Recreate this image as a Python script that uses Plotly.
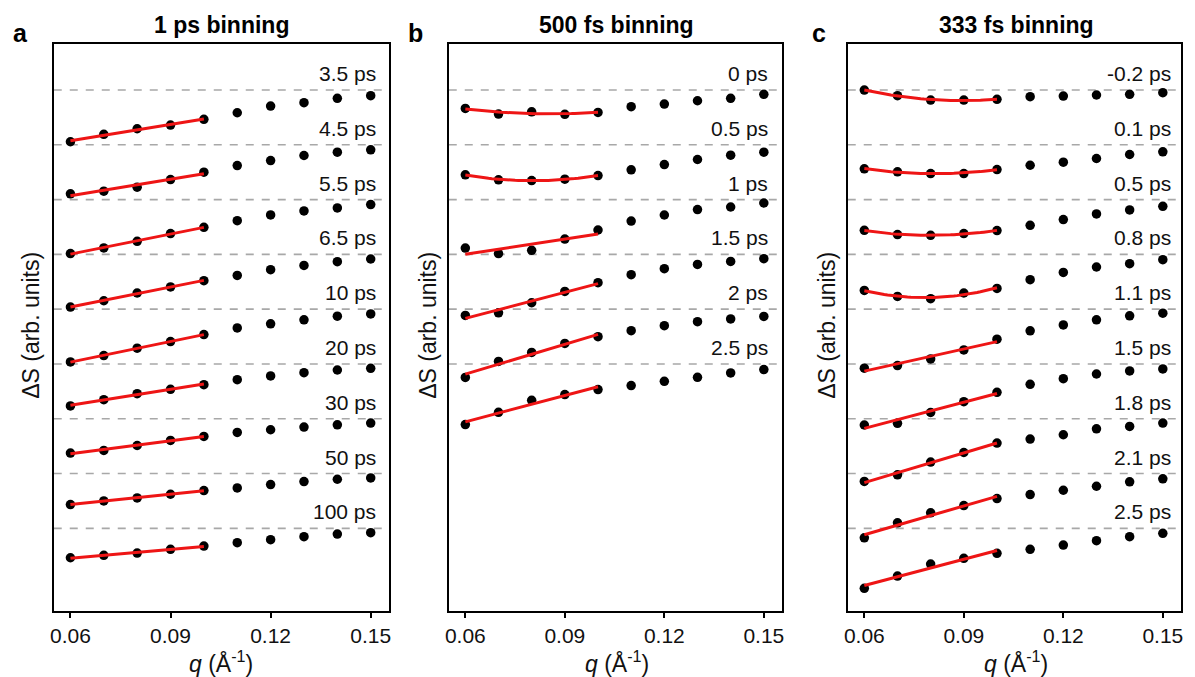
import numpy as np
import plotly.graph_objects as go

# ---------------- data ----------------
q = [0.06, 0.07, 0.08, 0.09, 0.10, 0.11, 0.12, 0.13, 0.14, 0.15]
q_fit_max = 0.10

labels_a = ["3.5 ps", "4.5 ps", "5.5 ps", "6.5 ps", "10 ps", "20 ps", "30 ps", "50 ps", "100 ps"]
dS_a = [
    [-0.944, -0.809, -0.707, -0.639, -0.535, -0.415, -0.292, -0.232, -0.151, -0.104],
    [-0.895, -0.847, -0.774, -0.634, -0.500, -0.378, -0.287, -0.195, -0.135, -0.091],
    [-0.986, -0.882, -0.762, -0.621, -0.506, -0.384, -0.279, -0.206, -0.152, -0.091],
    [-0.961, -0.846, -0.705, -0.595, -0.480, -0.384, -0.279, -0.201, -0.133, -0.084],
    [-0.963, -0.847, -0.712, -0.592, -0.464, -0.342, -0.268, -0.195, -0.128, -0.086],
    [-0.767, -0.652, -0.542, -0.462, -0.378, -0.287, -0.219, -0.159, -0.110, -0.079],
    [-0.627, -0.579, -0.488, -0.396, -0.323, -0.250, -0.201, -0.152, -0.110, -0.079],
    [-0.566, -0.500, -0.446, -0.378, -0.311, -0.263, -0.201, -0.146, -0.104, -0.080],
    [-0.537, -0.493, -0.451, -0.384, -0.323, -0.263, -0.208, -0.153, -0.104, -0.080],
]
fitdeg_a = [1, 1, 1, 1, 1, 1, 1, 1, 1]

labels_b = ["0 ps", "0.5 ps", "1 ps", "1.5 ps", "2 ps", "2.5 ps"]
dS_b = [
    [-0.335, -0.439, -0.397, -0.444, -0.408, -0.305, -0.256, -0.196, -0.152, -0.079],
    [-0.548, -0.639, -0.652, -0.628, -0.561, -0.457, -0.360, -0.268, -0.190, -0.135],
    [-0.884, -0.986, -0.926, -0.720, -0.555, -0.391, -0.281, -0.183, -0.135, -0.062],
    [-1.115, -1.066, -0.883, -0.676, -0.517, -0.371, -0.261, -0.183, -0.128, -0.079],
    [-1.246, -0.953, -0.789, -0.625, -0.502, -0.393, -0.301, -0.228, -0.179, -0.132],
    [-1.107, -0.883, -0.663, -0.559, -0.468, -0.395, -0.316, -0.243, -0.164, -0.102],
]
fitdeg_b = [2, 2, 1, 1, 1, 1]

labels_c = ["-0.2 ps", "0.1 ps", "0.5 ps", "0.8 ps", "1.1 ps", "1.5 ps", "1.8 ps", "2.1 ps", "2.5 ps"]
dS_c = [
    [0.000, -0.104, -0.183, -0.183, -0.170, -0.122, -0.110, -0.091, -0.079, -0.049],
    [-0.438, -0.493, -0.524, -0.524, -0.451, -0.373, -0.318, -0.250, -0.177, -0.128],
    [-0.561, -0.639, -0.652, -0.621, -0.566, -0.469, -0.365, -0.261, -0.188, -0.122],
    [-0.658, -0.767, -0.809, -0.705, -0.621, -0.462, -0.329, -0.230, -0.170, -0.097],
    [-1.078, -1.030, -0.908, -0.744, -0.548, -0.396, -0.287, -0.195, -0.122, -0.073],
    [-1.114, -1.083, -0.886, -0.689, -0.517, -0.371, -0.268, -0.183, -0.128, -0.091],
    [-1.145, -1.023, -0.791, -0.616, -0.444, -0.371, -0.292, -0.183, -0.141, -0.079],
    [-1.174, -0.900, -0.717, -0.584, -0.457, -0.384, -0.305, -0.232, -0.152, -0.097],
    [-1.095, -0.871, -0.652, -0.548, -0.457, -0.384, -0.305, -0.226, -0.153, -0.091],
]
fitdeg_c = [2, 2, 2, 2, 1, 1, 1, 1, 1]

panel_letters = ["a", "b", "c"]
panel_titles = ["1 ps binning", "500 fs binning", "333 fs binning"]
x_ticks = [0.06, 0.09, 0.12, 0.15]

# ---------------- style / layout ----------------
W, H = 1195, 677
FONT = "Arial, Liberation Sans, sans-serif"
x_dom = [(50 / W, 387 / W), (447 / W, 782 / W), (848 / W, 1183 / W)]
y_dom = (1 - 611 / H, 1 - 44 / H)
x_range = [0.0550, 0.1555]
y_range = [-9.509, 0.840]
label_xshift = [7, 6, 10]
panel_cx = [218.5, 616, 1017.5]
letter_x = [17, 414, 819]
ytitle_x = [27, 426, 827]

fig = go.Figure()
panels = [(labels_a, dS_a, fitdeg_a), (labels_b, dS_b, fitdeg_b), (labels_c, dS_c, fitdeg_c)]
shapes = []
annotations = []
qa = np.array(q)
mask = qa <= q_fit_max + 1e-9

for p, (labels, dS, degs) in enumerate(panels):
    xa = "x" if p == 0 else f"x{p+1}"
    ya = "y" if p == 0 else f"y{p+1}"
    for k, (lab, vals, deg) in enumerate(zip(labels, dS, degs)):
        off = -k
        y = np.array(vals) + off
        # dashed baseline
        shapes.append(dict(type="line", xref=f"{xa} domain", yref=ya, x0=0, x1=1, y0=off, y1=off,
                           line=dict(color="#a8a8a8", width=1.6, dash="8px,8px"), layer="below"))
        fig.add_trace(go.Scatter(x=q, y=y, mode="markers", xaxis=xa, yaxis=ya,
                                 marker=dict(color="black", size=9.5, line=dict(width=0)),
                                 showlegend=False, hoverinfo="skip"))
        coef = np.polyfit(qa[mask], y[mask], deg)
        qf = np.linspace(qa[mask][0], qa[mask][-1], 41)
        fig.add_trace(go.Scatter(x=qf, y=np.polyval(coef, qf), mode="lines", xaxis=xa, yaxis=ya,
                                 line=dict(color="#ee1515", width=3),
                                 showlegend=False, hoverinfo="skip"))
        annotations.append(dict(text=lab, xref=xa, yref=ya, x=q[-1], y=off, xanchor="right",
                                yanchor="bottom", xshift=label_xshift[p], yshift=3, showarrow=False,
                                font=dict(family=FONT, size=21, color="#111")))
    # axes
    xkey = "xaxis" if p == 0 else f"xaxis{p+1}"
    ykey = "yaxis" if p == 0 else f"yaxis{p+1}"
    fig.update_layout({
        xkey: dict(domain=list(x_dom[p]), range=x_range, anchor=ya, showgrid=False, zeroline=False,
                   showline=True, linecolor="black", linewidth=2, mirror=True,
                   ticks="outside", ticklen=5, tickwidth=2, tickcolor="black",
                   tickvals=x_ticks, ticktext=["0.06", "0.09", "0.12", "0.15"],
                   tickfont=dict(family=FONT, size=21, color="#111")),
        ykey: dict(domain=list(y_dom), range=y_range, anchor=xa, showgrid=False, zeroline=False,
                   showline=True, linecolor="black", linewidth=2, mirror=True,
                   showticklabels=False, ticks=""),
    })
    annotations.append(dict(text=f"<b>{panel_letters[p]}</b>", xref="paper", yref="paper",
                            x=letter_x[p] / W, y=1 - 33 / H, xanchor="center", yanchor="middle",
                            showarrow=False, font=dict(family=FONT, size=25, color="black")))
    annotations.append(dict(text=f"<b>{panel_titles[p]}</b>", xref="paper", yref="paper",
                            x=panel_cx[p] / W, y=1 - 25 / H, xanchor="center", yanchor="middle",
                            showarrow=False, font=dict(family=FONT, size=23, color="black")))
    annotations.append(dict(text="<i>q</i> (Å<sup>-1</sup>)", xref="paper", yref="paper",
                            x=panel_cx[p] / W, y=1 - 662 / H, xanchor="center", yanchor="middle",
                            showarrow=False, font=dict(family=FONT, size=23, color="#111")))
    annotations.append(dict(text="ΔS (arb. units)", xref="paper", yref="paper",
                            x=ytitle_x[p] / W, y=1 - 325 / H, xanchor="center", yanchor="middle",
                            textangle=-90, showarrow=False,
                            font=dict(family=FONT, size=23, color="#111")))

fig.update_layout(width=W, height=H, margin=dict(l=0, r=0, t=0, b=0),
                  paper_bgcolor="white", plot_bgcolor="white",
                  shapes=shapes, annotations=annotations)
fig.write_html("out.html")
